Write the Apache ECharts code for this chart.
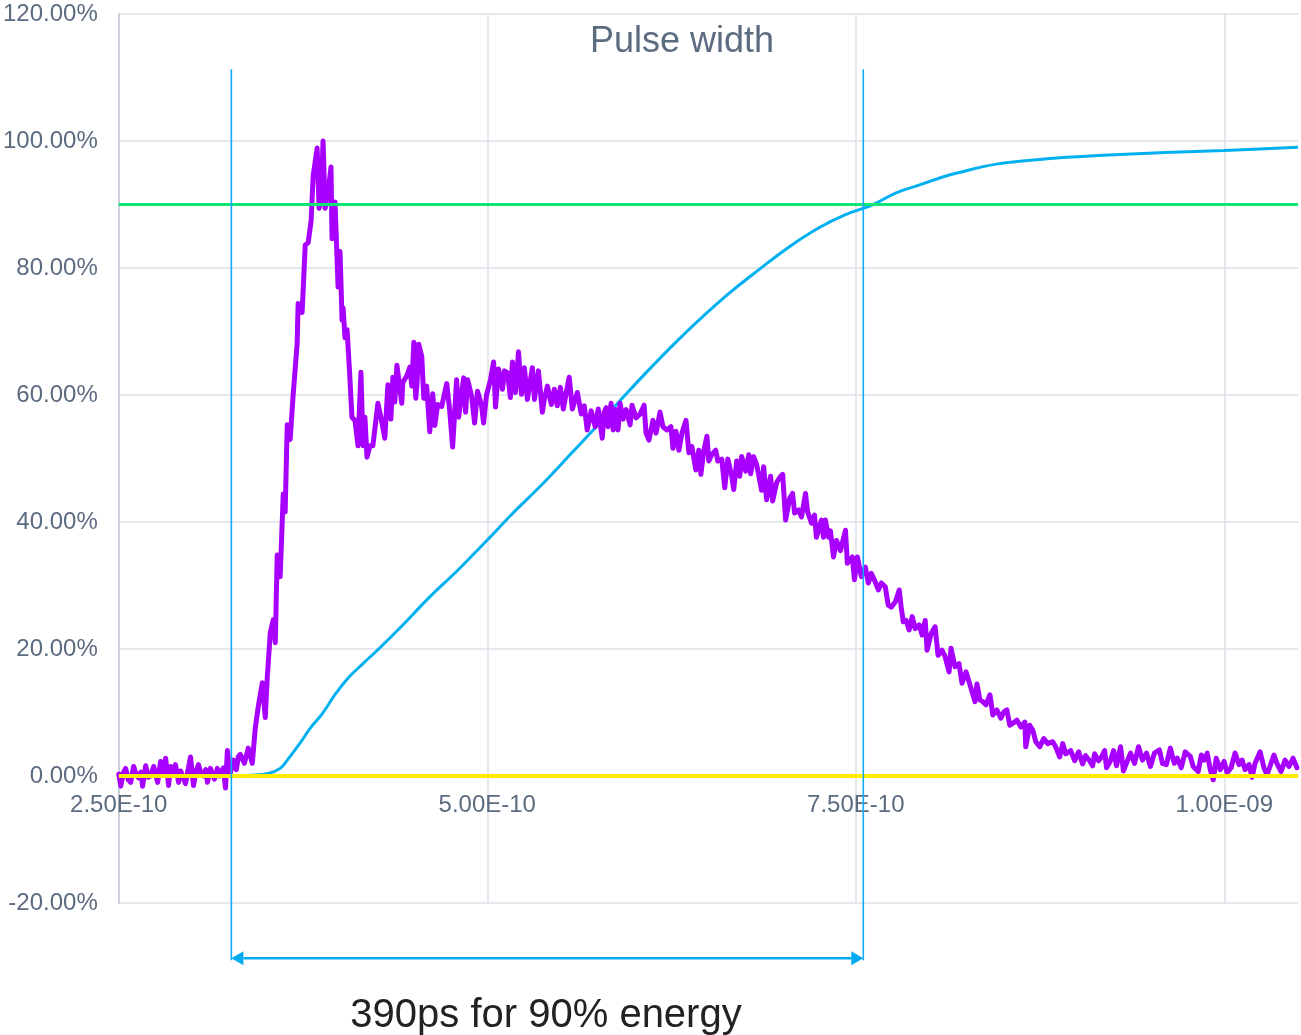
<!DOCTYPE html>
<html>
<head>
<meta charset="utf-8">
<script src="https://cdn.jsdelivr.net/npm/echarts@6/dist/echarts.min.js"></script>
<style>
  html, body { margin: 0; padding: 0; background: #ffffff; }
  #chart { width: 1301px; height: 1035px; }
</style>
</head>
<body>
<div id="chart"></div>
<script>
// Time axis in picoseconds, labelled in seconds (e.g. 2.50E-10)
const xTicksPs = [250, 500, 750, 1000];
const yTicksPct = [-20, 0, 20, 40, 60, 80, 100, 120];

// Measured pulse amplitude, % of peak, as [time ps, level %]
const pulse = [
  [250.0, 0.3], [251.4, -1.6], [253.0, 0.4], [254.7, 1.2], [256.5, -0.6], [258.1, -1.0],
  [260.1, 1.5], [261.8, 0.2], [263.5, -0.3], [265.0, 0.6], [266.2, -1.6], [268.3, 1.6],
  [270.0, -0.2], [271.6, 0.0], [273.7, 1.5], [275.0, 0.3], [276.4, -1.0], [278.4, 2.3],
  [280.2, 0.6], [281.8, 2.8], [283.8, -1.5], [285.2, 1.5], [286.8, 0.2], [288.5, 1.8],
  [290.6, -1.0], [292.0, 0.8], [293.3, 0.5], [295.3, -1.2], [297.0, 0.9], [298.7, 3.0],
  [300.7, -1.5], [302.3, 0.6], [304.1, 1.8], [305.8, 0.4], [307.5, 0.0], [309.0, 1.0],
  [310.2, -1.0], [312.2, 1.2], [313.6, 0.3], [314.9, -0.5], [316.9, 1.2], [318.3, 0.0],
  [319.6, 0.2], [321.0, 1.3], [322.4, -1.9], [323.7, 4.0], [325.0, 1.0], [325.7, 0.5],
  [327.8, 2.5], [329.8, 1.0], [331.1, 3.0], [332.5, 3.4], [335.2, 2.0], [337.9, 4.4],
  [340.6, 2.0], [342.6, 7.5], [344.7, 11.0], [347.4, 14.7], [349.4, 9.2], [350.8, 15.7],
  [352.8, 22.5], [354.8, 24.6], [356.2, 21.0], [357.5, 34.8], [359.5, 31.4], [361.6, 44.4],
  [362.9, 41.6], [364.3, 55.3], [366.3, 53.0], [368.3, 60.0], [371.0, 68.0], [371.7, 74.4],
  [374.4, 73.0], [376.5, 83.6], [378.5, 84.0], [380.5, 87.4], [381.9, 94.5], [384.6, 98.9],
  [385.9, 89.4], [387.3, 91.0], [388.6, 100.0], [390.0, 89.4], [392.0, 92.0], [394.0, 95.9],
  [394.7, 84.6], [396.7, 90.4], [398.8, 77.0], [400.1, 82.6], [401.5, 71.8], [402.2, 73.7],
  [403.5, 69.0], [404.9, 70.3], [406.5, 64.0], [408.2, 56.5], [410.3, 56.0], [412.3, 52.0],
  [414.3, 63.6], [415.7, 52.0], [417.0, 56.5], [418.4, 50.2], [420.4, 52.0], [422.4, 52.0],
  [425.8, 58.7], [428.5, 55.7], [430.5, 53.2], [432.6, 61.6], [434.6, 56.2], [436.0, 62.8],
  [437.3, 58.9], [438.7, 64.7], [442.0, 58.7], [442.7, 62.0], [445.4, 63.0], [447.5, 64.4],
  [448.8, 61.4], [450.2, 68.3], [451.5, 59.5], [452.4, 62.0], [453.5, 68.0], [455.6, 66.0],
  [456.9, 59.5], [458.9, 61.4], [461.0, 54.2], [463.0, 60.2], [464.4, 55.2], [466.4, 58.5],
  [469.1, 58.2], [472.5, 61.8], [474.5, 57.6], [476.5, 51.8], [479.2, 62.4], [480.6, 56.5],
  [484.0, 62.7], [485.3, 57.3], [486.7, 62.4], [489.4, 59.8], [491.4, 55.6], [493.4, 60.6],
  [496.1, 58.4], [497.5, 55.6], [499.5, 60.0], [502.2, 62.4], [504.3, 65.2], [505.6, 58.1],
  [507.6, 64.1], [510.3, 60.9], [511.7, 63.8], [513.7, 63.5], [515.7, 59.6], [517.1, 65.2],
  [519.1, 60.4], [521.2, 66.8], [523.2, 60.1], [525.2, 64.3], [527.2, 59.3], [530.6, 64.3],
  [532.0, 59.3], [534.7, 63.8], [537.4, 57.3], [538.7, 59.3], [540.8, 61.4], [543.5, 58.5],
  [545.5, 60.9], [547.5, 58.3], [549.6, 61.2], [551.6, 57.8], [553.6, 60.4], [555.6, 62.8],
  [557.7, 57.8], [561.1, 60.4], [563.8, 57.0], [565.8, 58.3], [567.8, 54.5], [570.5, 57.5],
  [573.2, 55.0], [575.3, 57.8], [578.0, 53.2], [579.3, 57.3], [580.7, 58.0], [582.0, 55.0],
  [584.0, 58.7], [585.4, 54.5], [587.4, 57.7], [588.7, 54.5], [590.1, 58.7], [592.1, 56.2],
  [594.2, 57.7], [596.9, 55.3], [598.2, 58.4], [600.9, 56.4], [603.7, 57.0], [606.4, 58.4],
  [607.7, 54.0], [609.7, 52.9], [612.4, 56.0], [614.5, 54.0], [617.2, 57.3], [619.2, 55.0],
  [621.9, 54.5], [624.6, 55.0], [626.0, 51.6], [628.0, 54.3], [630.0, 51.3], [632.1, 54.0],
  [634.8, 56.0], [636.8, 50.9], [638.8, 51.9], [641.5, 48.2], [643.5, 51.3], [644.9, 47.5],
  [646.9, 51.2], [649.0, 53.5], [650.3, 49.6], [652.3, 50.6], [655.0, 51.3], [656.4, 49.6],
  [659.1, 49.9], [661.1, 45.4], [663.2, 49.9], [665.9, 47.2], [667.2, 45.1], [669.2, 49.6],
  [671.3, 47.2], [672.6, 50.3], [675.3, 48.0], [677.4, 50.6], [678.7, 47.6], [680.7, 50.3],
  [682.8, 49.0], [686.1, 45.0], [687.5, 48.7], [689.5, 43.5], [692.2, 47.2], [693.6, 43.3],
  [696.3, 46.2], [699.0, 47.2], [700.4, 47.5], [702.4, 40.3], [705.1, 43.7], [707.1, 44.5],
  [708.5, 41.4], [711.2, 41.9], [713.2, 40.8], [715.9, 44.5], [717.3, 41.6], [720.0, 39.8],
  [722.0, 41.1], [723.3, 37.6], [726.7, 40.3], [728.1, 37.6], [729.4, 40.3], [731.5, 37.6],
  [732.8, 38.6], [734.9, 34.5], [736.9, 37.1], [739.6, 35.5], [743.0, 38.7], [744.3, 33.5],
  [747.7, 34.5], [749.1, 30.9], [751.1, 34.5], [753.8, 31.4], [756.5, 32.9], [758.5, 30.4],
  [760.5, 31.9], [762.6, 30.9], [765.3, 29.3], [767.3, 30.4], [770.0, 29.8], [772.0, 26.9],
  [774.1, 26.6], [776.8, 27.4], [779.5, 29.3], [780.8, 26.6], [782.2, 24.3], [784.2, 24.5],
  [786.2, 23.0], [788.3, 25.1], [790.3, 23.2], [793.0, 23.8], [795.0, 22.2], [797.1, 24.5],
  [798.4, 19.8], [801.1, 22.4], [803.8, 23.5], [805.8, 19.0], [808.5, 19.8], [810.6, 18.8],
  [813.3, 16.4], [814.6, 20.1], [817.3, 17.2], [820.0, 17.7], [822.1, 14.6], [824.8, 16.4],
  [828.2, 13.8], [830.9, 11.7], [832.2, 14.5], [834.2, 12.0], [836.3, 11.7], [838.3, 11.2],
  [841.0, 12.8], [843.0, 9.6], [845.7, 10.4], [848.4, 9.1], [850.5, 10.1], [852.5, 10.4],
  [854.5, 8.0], [856.6, 8.3], [859.3, 8.8], [862.0, 7.7], [864.7, 8.5], [865.3, 4.6],
  [868.0, 8.0], [870.1, 7.2], [872.1, 5.4], [874.8, 4.6], [877.5, 5.9], [880.2, 5.1],
  [883.6, 5.4], [885.6, 4.6], [888.3, 3.0], [890.4, 5.1], [892.4, 3.5], [895.8, 4.0],
  [898.5, 2.4], [901.2, 3.8], [903.9, 1.9], [905.9, 3.2], [908.6, 2.4], [910.7, 1.6],
  [912.0, 3.5], [914.7, 2.4], [916.7, 3.0], [918.8, 4.0], [920.1, 1.3], [922.8, 2.4],
  [924.9, 4.0], [926.9, 1.6], [929.6, 4.6], [931.6, 0.8], [934.3, 2.4], [936.4, 3.6],
  [939.1, 2.0], [941.8, 4.6], [944.5, 2.5], [947.2, 3.6], [949.9, 1.5], [952.6, 3.6],
  [956.0, 4.1], [958.0, 2.0], [960.7, 1.8], [963.4, 4.4], [966.1, 2.0], [968.1, 2.8],
  [970.8, 1.3], [973.5, 3.8], [976.9, 3.1], [978.9, 1.5], [982.3, 0.7], [984.4, 3.3],
  [986.4, 2.5], [988.4, 3.6], [990.5, 1.0], [992.5, -0.6], [994.5, 2.8], [997.2, 1.0],
  [999.9, 2.3], [1001.9, 0.5], [1004.6, 1.3], [1007.3, 3.6], [1010.0, 1.8], [1012.1, 2.5],
  [1014.1, 1.0], [1016.8, 1.8], [1018.8, -0.2], [1020.9, 2.0], [1024.3, 3.8], [1026.9, 1.3],
  [1029.0, 0.2], [1033.7, 3.3], [1035.7, 2.0], [1038.5, 0.7], [1041.2, 2.5], [1043.9, 1.5],
  [1046.6, 2.8], [1049.3, 1.3]
];

// Cumulative pulse energy, % of total, as [time ps, energy %]
const energy = [
  [250.0, 0.0], [326.4, 0.0], [339.3, 0.1], [351.4, 0.4], [359.5, 1.2], [365.0, 2.7],
  [373.1, 5.2], [379.8, 7.5], [388.0, 9.8], [396.7, 12.8], [405.5, 15.4], [415.7, 17.7],
  [427.2, 20.2], [440.7, 23.3], [461.0, 28.2], [480.0, 32.4], [500.2, 37.2], [517.0, 41.3],
  [535.4, 45.5], [555.0, 50.3], [573.9, 55.0], [592.0, 59.6], [609.7, 64.0], [627.0, 68.1],
  [643.6, 71.8], [664.0, 76.0], [684.1, 79.7], [704.0, 83.2], [724.7, 86.3], [743.0, 88.4],
  [761.9, 90.0], [777.0, 91.8], [792.3, 93.0], [806.0, 94.1], [819.4, 95.0], [846.4, 96.4],
  [880.0, 97.2], [914.0, 97.7], [960.0, 98.2], [999.9, 98.5], [1050.0, 99.0]
];

// Reference levels, %
const energyThreshold = 90;
const zeroLevel = 0;

// Span holding 90% of the energy, ps
const energyStartPs = 326.4;
const energyEndPs = 755.1;

const titleText = 'Pulse width';
const spanText = '390ps for 90% energy';

const labelColor = '#5b6b80';
const gridColor = '#dde2ea';
const fontFamily = 'Liberation Sans, Arial, sans-serif';

function sciLabel(ps) {
  const s = (ps * 1e-12).toExponential(2).toUpperCase();
  return s.replace(/E([+-])(\d)$/, 'E$10$2');
}

const chart = echarts.init(document.getElementById('chart'), null, { renderer: 'canvas' });

const xMin = xTicksPs[0];
const xMax = 1050;
const yMin = yTicksPct[0];
const yMax = yTicksPct[yTicksPct.length - 1];
const gridTop = 14, gridBottom = 132;
const plotHeight = 1035 - gridTop - gridBottom;
// Lift the time axis from the bottom edge up to the 0% level
const xAxisLift = plotHeight * (zeroLevel - yMin) / (yMax - yMin);

chart.setOption({
  animation: false,
  backgroundColor: '#ffffff',
  grid: { left: 118, right: 0, top: gridTop, bottom: gridBottom, containLabel: false },
  xAxis: {
    type: 'value',
    min: xMin,
    max: xMax,
    interval: 250,
    position: 'bottom',
    offset: -xAxisLift,
    axisLine: { show: true, onZero: false, lineStyle: { color: '#c9d0da', width: 1 } },
    axisTick: { show: false },
    axisLabel: {
      color: labelColor,
      fontFamily: fontFamily,
      fontSize: 24,
      margin: 17,
      formatter: v => (xTicksPs.indexOf(v) >= 0 ? sciLabel(v) : '')
    },
    splitLine: { show: true, showMaxLine: false, lineStyle: { color: gridColor, width: 1.5 } }
  },
  yAxis: {
    type: 'value',
    min: yMin,
    max: yMax,
    interval: 20,
    axisLine: { show: true, lineStyle: { color: '#c9d0da', width: 2 } },
    axisTick: { show: false },
    axisLabel: {
      color: labelColor,
      fontFamily: fontFamily,
      fontSize: 24,
      margin: 21,
      formatter: v => v.toFixed(2) + '%'
    },
    splitLine: { show: true, lineStyle: { color: gridColor, width: 1.5 } }
  },
  series: [
    {
      name: 'Energy',
      type: 'line',
      data: energy,
      smooth: 0.4,
      showSymbol: false,
      z: 2,
      lineStyle: { color: '#00b0f0', width: 3 }
    },
    {
      name: 'Pulse',
      type: 'line',
      data: pulse,
      showSymbol: false,
      z: 3,
      lineStyle: { color: '#a800ff', width: 5, join: 'round', cap: 'round' }
    },
    {
      name: '90%',
      type: 'line',
      data: [[xMin, energyThreshold], [xMax, energyThreshold]],
      showSymbol: false,
      z: 4,
      lineStyle: { color: '#0ee676', width: 3 }
    },
    {
      name: '0%',
      type: 'line',
      data: [[xMin, zeroLevel], [xMax, zeroLevel]],
      showSymbol: false,
      z: 5,
      lineStyle: { color: '#ffec00', width: 4 }
    }
  ]
});

// Bracket marking the 90% energy span, placed through the chart's own scales
const toPx = (x, y) => chart.convertToPixel({ gridIndex: 0 }, [x, y]);
const [xa, yTop] = toPx(energyStartPs, 111.3);
const [xb] = toPx(energyEndPs, 111.3);
const yArrow = toPx(energyStartPs, -28.7)[1];
const yBottom = toPx(energyStartPs, -29.0)[1];
const bracketColor = '#12aaf8';
const arrowColor = '#00aaf0';
const head = 12, half = 7;

chart.setOption({
  graphic: [
    { type: 'line', shape: { x1: xa, y1: yTop, x2: xa, y2: yBottom }, style: { stroke: bracketColor, lineWidth: 1.6 }, z: 10 },
    { type: 'line', shape: { x1: xb, y1: yTop, x2: xb, y2: yBottom }, style: { stroke: bracketColor, lineWidth: 1.6 }, z: 10 },
    { type: 'line', shape: { x1: xa + head, y1: yArrow, x2: xb - head, y2: yArrow }, style: { stroke: arrowColor, lineWidth: 2.5 }, z: 10 },
    { type: 'polygon', shape: { points: [[xa, yArrow], [xa + head, yArrow - half], [xa + head, yArrow + half]] }, style: { fill: arrowColor }, z: 10 },
    { type: 'polygon', shape: { points: [[xb, yArrow], [xb - head, yArrow - half], [xb - head, yArrow + half]] }, style: { fill: arrowColor }, z: 10 },
    {
      type: 'text', z: 10,
      style: {
        text: titleText, x: 682, y: 42,
        textAlign: 'center', textVerticalAlign: 'middle',
        fill: labelColor, fontSize: 36, fontFamily: fontFamily
      }
    },
    {
      type: 'text', z: 10,
      style: {
        text: spanText, x: 546, y: 1016,
        textAlign: 'center', textVerticalAlign: 'middle',
        fill: '#222222', fontSize: 40, fontFamily: fontFamily
      }
    }
  ]
});
</script>
</body>
</html>
